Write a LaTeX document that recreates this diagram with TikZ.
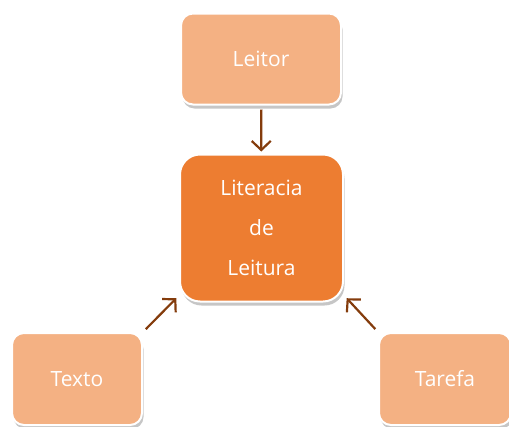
\documentclass[tikz,border=0pt]{standalone}
\usepackage{fontspec}
\setmainfont{Open Sans}
\usetikzlibrary{
  arrows.meta,
  shadows
}
\tikzset{>=Latex}
\definecolor{lightorange}{HTML}{F4B183}
\definecolor{darkorange}{HTML}{ED7D31}
\definecolor{arrowbrown}{HTML}{843C0C}

\begin{document}
\begin{tikzpicture}[x=1pt,y=-1pt,
  box/.style={draw=white,line width=2pt,rounded corners=12pt,
    fill=lightorange,text=white,font=\fontsize{21}{40}\selectfont,
    align=center,inner sep=0pt,
    drop shadow={shadow xshift=1.5pt,shadow yshift=-4pt,opacity=0.45}},
  link/.style={arrowbrown,line width=2.2pt,
    -{Straight Barb[length=9pt,width=19pt,line width=2.2pt]}}]
\useasboundingbox (0,0) rectangle (509,426);
\node[box,minimum width=160pt,minimum height=91pt] (leitor) at (261,59) {Leitor};
\node[box,fill=darkorange,rounded corners=20pt,minimum width=163pt,minimum height=147pt] (literacia) at (261.5,228) {Literacia\\de\\Leitura};
\node[box,minimum width=130pt,minimum height=92pt] (texto) at (77,379) {Texto};
\node[box,minimum width=132pt,minimum height=92pt] (tarefa) at (445,379) {Tarefa};
\draw[link,shorten <=4pt,shorten >=2pt] (leitor) -- (literacia);
\draw[link,shorten <=4pt,shorten >=1pt] (texto.north east) -- ([shift={(-2pt,5pt)}]literacia.south west);
\draw[link,shorten <=4pt,shorten >=1pt] (tarefa.north west) -- ([shift={(2pt,5pt)}]literacia.south east);
\end{tikzpicture}
\end{document}
